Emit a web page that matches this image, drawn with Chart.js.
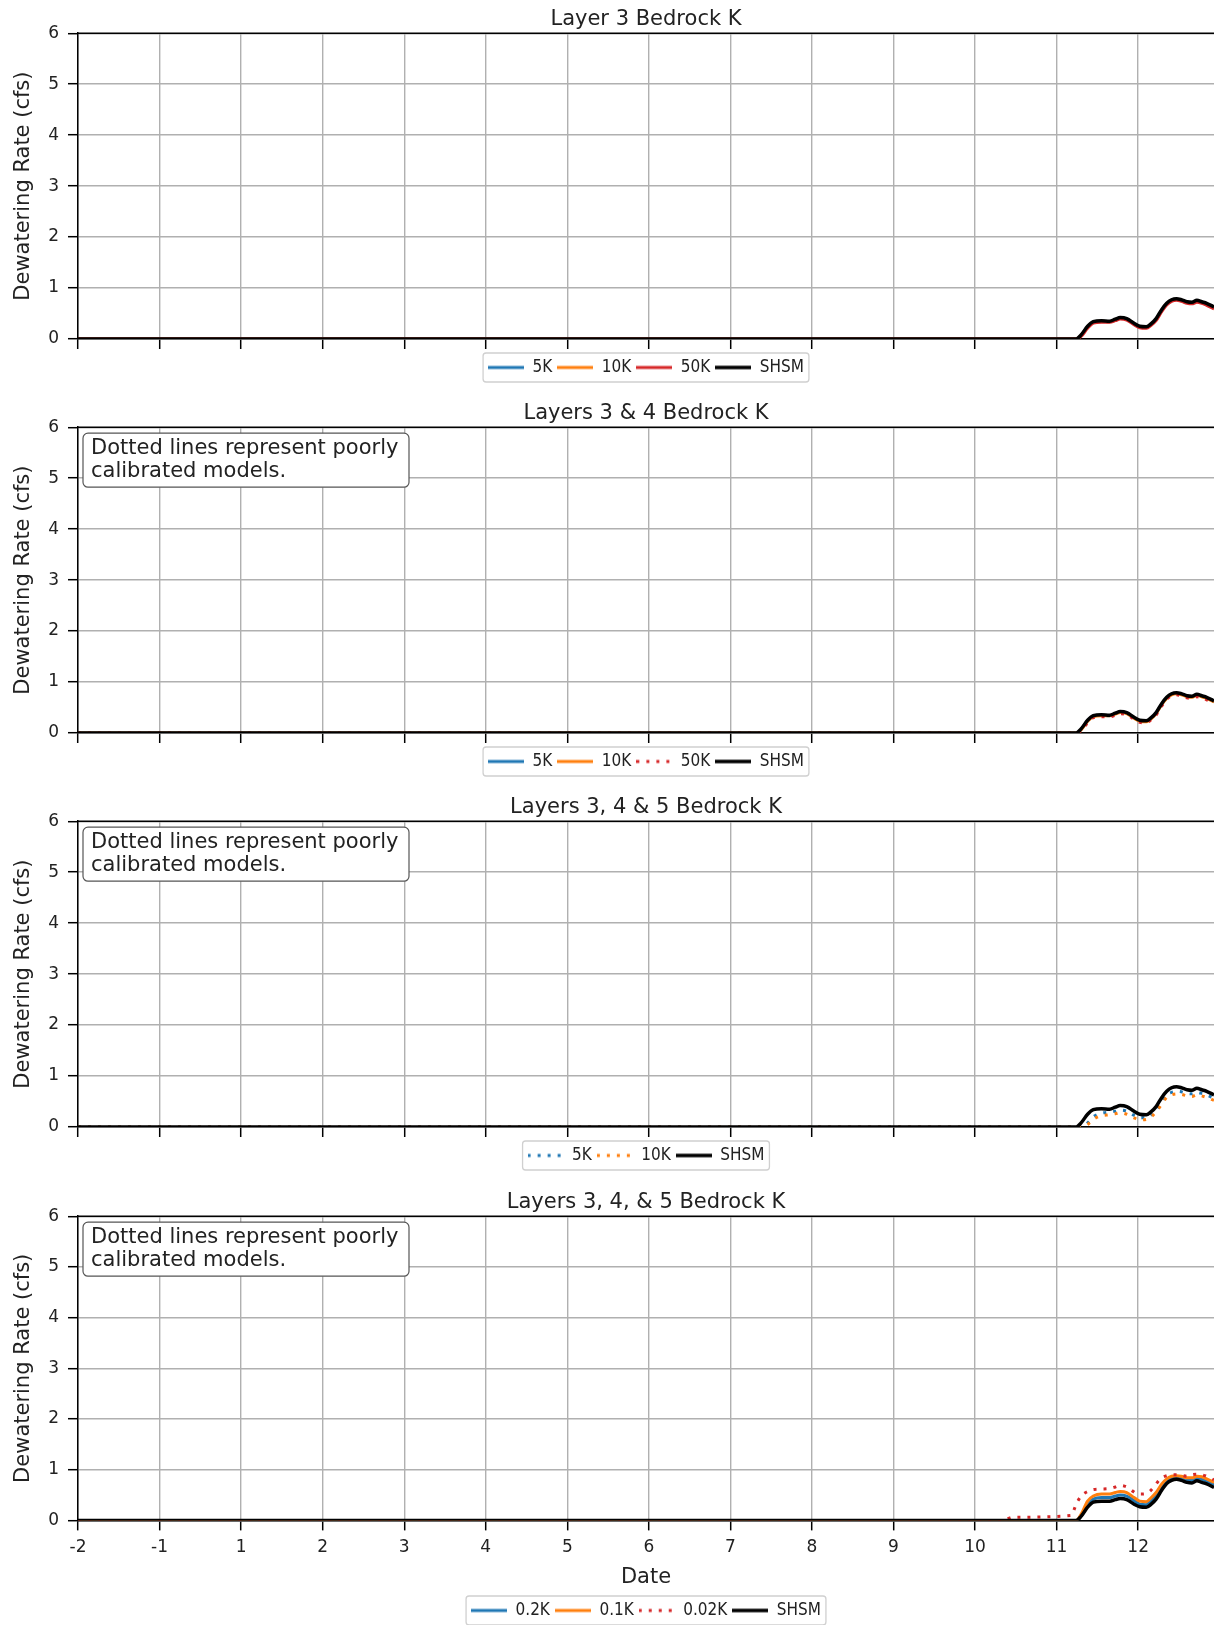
<!DOCTYPE html>
<html>
<head>
<meta charset="utf-8">
<script src="https://cdn.jsdelivr.net/npm/chart.js@4.4.1/dist/chart.umd.min.js"></script>
<style>
  body { margin: 0; background: #fff; width: 1214px; height: 1625px; overflow: hidden; }
  canvas { position: absolute; left: 0; }
</style>
</head>
<body>
<canvas id="p1" width="1214" height="394" style="top:0px"></canvas>
<canvas id="p2" width="1214" height="394" style="top:394px"></canvas>
<canvas id="p3" width="1214" height="394" style="top:788px"></canvas>
<canvas id="p4" width="1214" height="442" style="top:1183px"></canvas>
<script>
// tick labels along the date axis (one per tick position 0..13)
const xTickLabels = ["-2", "-1", "1", "2", "3", "4", "5", "6", "7", "8", "9", "10", "11", "12"];
const yTicks = [0, 1, 2, 3, 4, 5, 6];
const xMax = 13.93;

// sample positions on the date axis (in tick-position units)
const datePos = [0, 11.35, 11.45, 12.18, 12.24, 12.3, 12.38, 12.45, 12.55, 12.65, 12.72, 12.78, 12.86, 12.95,
  13.02, 13.1, 13.16, 13.22, 13.29, 13.35, 13.41, 13.47, 13.53, 13.6, 13.66, 13.72, 13.78, 13.84, 13.93];

// panel 1 - Layer 3 Bedrock K
const l3_5K   = [0, 0, 0, 0, 0, 0.07, 0.24, 0.33, 0.35, 0.34, 0.38, 0.41, 0.39, 0.30, 0.24, 0.23, 0.29, 0.39, 0.57, 0.69, 0.76, 0.78, 0.76, 0.72, 0.71, 0.75, 0.72, 0.69, 0.62];
const l3_10K  = [0, 0, 0, 0, 0, 0.07, 0.23, 0.33, 0.35, 0.34, 0.38, 0.41, 0.39, 0.30, 0.24, 0.23, 0.29, 0.38, 0.56, 0.69, 0.76, 0.78, 0.76, 0.72, 0.71, 0.74, 0.72, 0.68, 0.61];
const l3_50K  = [0, 0, 0, 0, 0, 0.05, 0.21, 0.31, 0.33, 0.33, 0.36, 0.39, 0.37, 0.28, 0.22, 0.21, 0.27, 0.36, 0.54, 0.67, 0.74, 0.76, 0.74, 0.70, 0.69, 0.72, 0.70, 0.66, 0.59];
const l3_SHSM = [0, 0, 0, 0, 0, 0.08, 0.25, 0.34, 0.36, 0.35, 0.39, 0.42, 0.40, 0.31, 0.25, 0.24, 0.30, 0.40, 0.58, 0.70, 0.77, 0.79, 0.77, 0.73, 0.72, 0.76, 0.73, 0.70, 0.63];

// panel 2 - Layers 3 & 4
const l34_5K   = [0, 0, 0, 0, 0, 0.07, 0.24, 0.33, 0.35, 0.34, 0.38, 0.41, 0.39, 0.30, 0.24, 0.23, 0.29, 0.39, 0.57, 0.69, 0.76, 0.78, 0.76, 0.72, 0.71, 0.75, 0.72, 0.69, 0.62];
const l34_10K  = [0, 0, 0, 0, 0, 0.06, 0.23, 0.32, 0.34, 0.34, 0.37, 0.40, 0.38, 0.29, 0.23, 0.22, 0.28, 0.38, 0.56, 0.68, 0.75, 0.77, 0.75, 0.71, 0.70, 0.74, 0.71, 0.68, 0.61];
const l34_50K  = [0, 0, 0, 0, 0, 0.04, 0.20, 0.30, 0.32, 0.32, 0.35, 0.38, 0.36, 0.27, 0.21, 0.20, 0.26, 0.35, 0.53, 0.66, 0.73, 0.75, 0.73, 0.69, 0.68, 0.71, 0.69, 0.65, 0.58];
const l34_SHSM = [0, 0, 0, 0, 0, 0.08, 0.25, 0.34, 0.36, 0.35, 0.39, 0.42, 0.40, 0.31, 0.25, 0.24, 0.30, 0.40, 0.58, 0.70, 0.77, 0.79, 0.77, 0.73, 0.72, 0.76, 0.73, 0.70, 0.63];

// panel 3 - Layers 3, 4 & 5
const l345_5K   = [0, 0, 0, 0, 0, 0, 0.08, 0.20, 0.27, 0.29, 0.31, 0.33, 0.31, 0.23, 0.18, 0.18, 0.24, 0.34, 0.50, 0.63, 0.68, 0.70, 0.69, 0.66, 0.65, 0.68, 0.66, 0.63, 0.56];
const l345_10K  = [0, 0, 0, 0, 0, 0, 0.05, 0.15, 0.22, 0.24, 0.26, 0.28, 0.25, 0.18, 0.14, 0.15, 0.20, 0.30, 0.45, 0.58, 0.63, 0.65, 0.64, 0.61, 0.60, 0.63, 0.61, 0.58, 0.52];
const l345_SHSM = [0, 0, 0, 0, 0, 0.08, 0.25, 0.34, 0.36, 0.35, 0.39, 0.42, 0.40, 0.31, 0.25, 0.24, 0.30, 0.40, 0.58, 0.70, 0.77, 0.79, 0.77, 0.73, 0.72, 0.76, 0.73, 0.70, 0.63];

// panel 4 - Layers 3, 4, & 5 (low K)
const low_02K  = [0, 0, 0, 0, 0, 0.10, 0.32, 0.42, 0.45, 0.45, 0.48, 0.50, 0.48, 0.39, 0.32, 0.31, 0.39, 0.49, 0.67, 0.78, 0.84, 0.85, 0.84, 0.80, 0.79, 0.83, 0.81, 0.77, 0.70];
const low_01K  = [0, 0, 0, 0, 0, 0.12, 0.38, 0.48, 0.52, 0.52, 0.55, 0.57, 0.55, 0.45, 0.38, 0.37, 0.45, 0.55, 0.72, 0.82, 0.87, 0.88, 0.87, 0.84, 0.84, 0.87, 0.86, 0.82, 0.75];
const low_002K = [0, 0, 0.06, 0.10, 0.32, 0.48, 0.57, 0.61, 0.62, 0.63, 0.66, 0.69, 0.66, 0.56, 0.52, 0.53, 0.60, 0.72, 0.84, 0.88, 0.90, 0.90, 0.89, 0.87, 0.90, 0.91, 0.90, 0.87, 0.80];
const low_SHSM = [0, 0, 0, 0, 0, 0.08, 0.26, 0.36, 0.38, 0.38, 0.41, 0.43, 0.41, 0.32, 0.27, 0.26, 0.32, 0.42, 0.60, 0.73, 0.79, 0.81, 0.79, 0.75, 0.74, 0.78, 0.75, 0.72, 0.65];

const BLUE = "#1f77b4", ORANGE = "#ff7f0e", RED = "#d62728", BLACK = "#000000";
const TEXT = "#222222";
const noteLines = ["Dotted lines represent poorly", "calibrated models."];

Chart.defaults.font.family = "'DejaVu Sans', sans-serif";
Chart.defaults.color = TEXT;

// little line image used as the legend marker (keeps the dotted look)
function legendSample(color, dotted, width) {
  const c = document.createElement("canvas");
  c.width = 36; c.height = 8;
  const g = c.getContext("2d");
  g.strokeStyle = color;
  g.lineWidth = width;
  if (dotted) g.setLineDash([3, 7]);
  g.beginPath(); g.moveTo(0, 4); g.lineTo(36, 4); g.stroke();
  return c;
}

// top spine, legend frame and the note box
const framePlugin = {
  id: "frame",
  beforeDraw(chart) {
    const boxes = chart.legend.legendHitBoxes;
    if (!boxes || !boxes.length) return;
    const ctx = chart.ctx;
    let l = Infinity, r = -Infinity, t = Infinity, b = -Infinity;
    boxes.forEach(h => {
      l = Math.min(l, h.left); r = Math.max(r, h.left + h.width);
      t = Math.min(t, h.top); b = Math.max(b, h.top + h.height);
    });
    ctx.save();
    ctx.beginPath();
    ctx.roundRect(l - 5, t - 6, r - l + 10, b - t + 12, 3);
    ctx.fillStyle = "#fff";
    ctx.fill();
    ctx.strokeStyle = "#d0d0d0";
    ctx.lineWidth = 1.3;
    ctx.stroke();
    ctx.restore();
  },
  afterDraw(chart, args, opts) {
    const ctx = chart.ctx, a = chart.chartArea;
    ctx.save();
    ctx.strokeStyle = "#000";
    ctx.lineWidth = 1.5;
    ctx.beginPath();
    ctx.moveTo(a.left, a.top);
    ctx.lineTo(a.right, a.top);
    ctx.stroke();
    if (opts.note) {
      const x = a.left + 5, y = a.top + 6;
      ctx.beginPath();
      ctx.roundRect(x, y, 326, 54, 5);
      ctx.fillStyle = "#fff";
      ctx.fill();
      ctx.strokeStyle = "#555";
      ctx.lineWidth = 1.2;
      ctx.stroke();
      ctx.fillStyle = TEXT;
      ctx.font = "21px 'DejaVu Sans'";
      ctx.textBaseline = "middle";
      noteLines.forEach((s, i) => ctx.fillText(s, x + 8, y + 15 + i * 23));
    }
    ctx.restore();
  }
};

function buildChart(id, titleText, sets, last, note) {
  const datasets = sets.map((s, i) => {
    const w = s.color === BLACK ? 3.5 : 3;
    return {
      label: s.label,
      data: s.values.map((v, j) => ({ x: datePos[j], y: v })),
      borderColor: s.color,
      backgroundColor: s.color,
      borderWidth: w,
      borderDash: s.dotted ? [3, 7] : [],
      pointRadius: 0,
      pointStyle: legendSample(s.color, s.dotted, w),
      cubicInterpolationMode: "monotone",
      order: sets.length - i,
      fill: false
    };
  });
  const grid = { color: "#b0b0b0", lineWidth: 1.4, tickLength: 10, tickColor: "#000", tickWidth: 1.5 };
  return new Chart(document.getElementById(id), {
    type: "line",
    data: { datasets },
    options: {
      responsive: false,
      animation: false,
      devicePixelRatio: 1,
      layout: { padding: { left: 0, right: 0, top: 0, bottom: last ? -4 : 8 } },
      plugins: {
        title: { display: true, text: titleText, fullSize: false, font: { size: 21, weight: "normal" }, padding: { top: 7, bottom: 1 } },
        legend: {
          position: "bottom",
          fullSize: false,
          labels: {
            usePointStyle: true, pointStyleWidth: 36,
            font: { size: 17, family: "'DejaVu Sans Condensed', 'Liberation Sans Narrow', 'DejaVu Sans'" },
            padding: 5,
            sort: (p, q) => p.datasetIndex - q.datasetIndex
          }
        },
        tooltip: { enabled: false },
        frame: { note }
      },
      scales: {
        x: {
          type: "linear", min: 0, max: xMax,
          afterBuildTicks: sc => { sc.ticks = xTickLabels.map((t, i) => ({ value: i })); },
          afterFit: sc => { if (!last) sc.height += 5; },
          ticks: { display: last, callback: v => xTickLabels[v], font: { size: 17 }, padding: 7, maxRotation: 0, autoSkip: false },
          grid,
          border: { color: "#000", width: 1.5 },
          title: { display: last, text: "Date", font: { size: 21 }, padding: { top: 0, bottom: 7 } }
        },
        y: {
          min: 0, max: 6,
          afterBuildTicks: sc => { sc.ticks = yTicks.map(v => ({ value: v })); },
          afterFit: sc => { sc.width = 78; },
          ticks: { font: { size: 17 }, padding: 9 },
          grid,
          border: { color: "#000", width: 1.5 },
          title: { display: true, text: "Dewatering Rate (cfs)", font: { size: 21 }, padding: { top: 11, bottom: 0 } }
        }
      }
    },
    plugins: [framePlugin]
  });
}

buildChart("p1", "Layer 3 Bedrock K", [
  { label: "5K", values: l3_5K, color: BLUE },
  { label: "10K", values: l3_10K, color: ORANGE },
  { label: "50K", values: l3_50K, color: RED },
  { label: "SHSM", values: l3_SHSM, color: BLACK }
], false, false);

buildChart("p2", "Layers 3 & 4 Bedrock K", [
  { label: "5K", values: l34_5K, color: BLUE },
  { label: "10K", values: l34_10K, color: ORANGE },
  { label: "50K", values: l34_50K, color: RED, dotted: true },
  { label: "SHSM", values: l34_SHSM, color: BLACK }
], false, true);

buildChart("p3", "Layers 3, 4 & 5 Bedrock K", [
  { label: "5K", values: l345_5K, color: BLUE, dotted: true },
  { label: "10K", values: l345_10K, color: ORANGE, dotted: true },
  { label: "SHSM", values: l345_SHSM, color: BLACK }
], false, true);

buildChart("p4", "Layers 3, 4, & 5 Bedrock K", [
  { label: "0.2K", values: low_02K, color: BLUE },
  { label: "0.1K", values: low_01K, color: ORANGE },
  { label: "0.02K", values: low_002K, color: RED, dotted: true },
  { label: "SHSM", values: low_SHSM, color: BLACK }
], true, true);
</script>
</body>
</html>
